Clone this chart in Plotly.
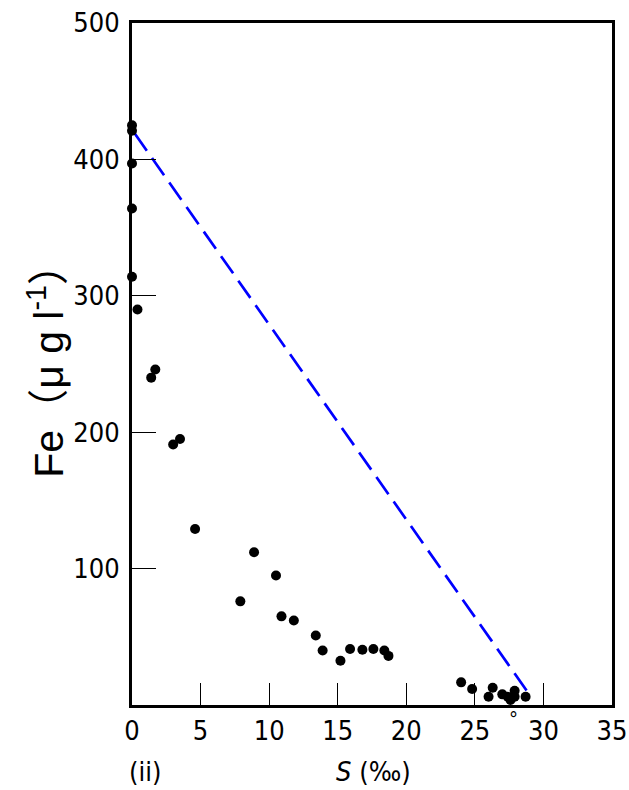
import plotly.graph_objects as go

salinity = [0.0, 0.0, 0.0, 0.0, 0.0, 0.4, 1.4, 1.7, 3.0, 3.5, 4.6, 7.9, 8.9, 10.5,
            10.9, 11.8, 13.4, 13.9, 15.2, 15.9, 16.8, 17.6, 18.4, 18.7,
            24.0, 24.8, 26.0, 26.3, 27.0, 27.4, 27.9, 27.6, 27.9, 28.7]
iron = [425, 421, 397, 364, 314, 290, 240, 246, 191, 195, 129, 76, 112, 95,
        65, 62, 51, 40, 32.5, 41, 40.5, 41, 40, 36,
        16.6, 11.7, 6, 12.7, 7.8, 6, 10.5, 3.7, 6, 6]
mixing_x = [0.2, 28.9]
mixing_y = [419, 8.8]
x_ticks = [0, 5, 10, 15, 20, 25, 30, 35]
y_ticks = [100, 200, 300, 400, 500]

FONT = "DejaVu Sans Condensed, Roboto Condensed, Arial Narrow, sans-serif"

fig = go.Figure()
fig.add_trace(go.Scatter(x=mixing_x, y=mixing_y, mode="lines",
                         line=dict(color="#0000ff", width=2.7, dash="21px,9px"),
                         showlegend=False, hoverinfo="skip"))
fig.add_trace(go.Scatter(x=salinity, y=iron, mode="markers",
                         marker=dict(color="black", size=10),
                         showlegend=False, cliponaxis=False))

fig.update_xaxes(range=[0, 35], tickvals=x_ticks, ticktext=[str(v) for v in x_ticks],
                 ticks="inside", ticklen=22, tickwidth=1.3, tickcolor="black",
                 showline=True, linewidth=3, linecolor="black", mirror=True,
                 showgrid=False, zeroline=False, automargin=False,
                 tickfont=dict(family=FONT, size=27, color="#000"))
fig.update_yaxes(range=[0, 500], tickvals=y_ticks, ticktext=[str(v) for v in y_ticks],
                 ticks="inside", ticklen=24, tickwidth=1.3, tickcolor="black",
                 showline=True, linewidth=3, linecolor="black", mirror=True,
                 showgrid=False, zeroline=False, ticklabelstandoff=4, automargin=False,
                 tickfont=dict(family=FONT, size=27, color="#000"))

fig.update_layout(
    width=629, height=790,
    margin=dict(l=132, r=17, t=23, b=85, autoexpand=False),
    paper_bgcolor="white", plot_bgcolor="white",
    annotations=[
        dict(text="Fe（μ g l<sup>-1</sup>）", xref="paper", yref="paper",
             x=-0.181, y=0.505, xanchor="center", yanchor="middle",
             textangle=-90, showarrow=False,
             font=dict(family="Liberation Sans, Arial, Noto Sans CJK SC, sans-serif",
                       size=41, color="black")),
        dict(text="<i>S</i> (‰)", xref="paper", yref="paper",
             x=(373 - 132) / 480, y=-(772 - 705) / 682, xanchor="center", yanchor="middle",
             showarrow=False, font=dict(family=FONT, size=27, color="#000")),
        dict(text="(ii)", xref="paper", yref="paper",
             x=(145 - 132) / 480, y=-(772 - 705) / 682, xanchor="center", yanchor="middle",
             showarrow=False, font=dict(family=FONT, size=27, color="#000")),
        dict(text="°", xref="x", yref="paper",
             x=27.8, y=-(719 - 705) / 682, xanchor="center", yanchor="middle",
             showarrow=False, font=dict(family=FONT, size=20, color="#000")),
    ],
)

fig.write_html("out.html")
